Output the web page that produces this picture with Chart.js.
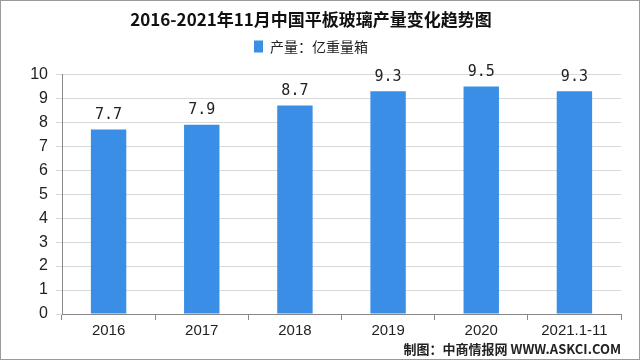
<!DOCTYPE html>
<html>
<head>
<meta charset="utf-8">
<script src="https://cdn.jsdelivr.net/npm/chart.js@4.4.0/dist/chart.umd.min.js"></script>
<style>
  html, body { margin: 0; padding: 0; background: #fff; }
  #wrap { position: relative; width: 638px; height: 358px; border: 1px solid #9a9a9a; }
  #credit { position: absolute; right: 18px; bottom: 1px; font: bold 13px "Noto Sans CJK SC", sans-serif; color: #222; }
</style>
</head>
<body>
<div id="wrap">
  <canvas id="chart" width="638" height="358"></canvas>
  <div id="credit">制图：中商情报网 WWW.ASKCI.COM</div>
</div>
<script>
var years = ["2016", "2017", "2018", "2019", "2020", "2021.1-11"];
var output = [7.7, 7.9, 8.7, 9.3, 9.5, 9.3];
var yTicks = [0, 1, 2, 3, 4, 5, 6, 7, 8, 9, 10];

// labels over each bar
var barLabels = {
    id: "barLabels",
    afterDatasetsDraw: function(chart) {
        var ctx = chart.ctx;
        var meta = chart.getDatasetMeta(0);
        ctx.save();
        ctx.font = "15px 'DejaVu Sans Mono', monospace";
        ctx.fillStyle = "#222";
        ctx.textAlign = "center";
        ctx.textBaseline = "bottom";
        meta.data.forEach(function(bar, i) {
            ctx.fillText(output[i].toFixed(1), bar.x, bar.y - 7);
        });
        ctx.restore();
    }
};

// extra gap below the legend
var legendGap = {
    id: "legendGap",
    beforeInit: function(chart) {
        var fit = chart.legend.fit;
        chart.legend.fit = function() {
            fit.bind(chart.legend)();
            this.height += 11;
        };
    }
};

new Chart(document.getElementById("chart"), {
    type: "bar",
    data: {
        labels: years,
        datasets: [{
            label: "产量：亿重量箱",
            data: output,
            backgroundColor: "#3a8ee6",
            categoryPercentage: 1,
            barPercentage: 0.38
        }]
    },
    options: {
        responsive: false,
        animation: false,
        layout: { padding: { left: 0, right: 18, top: 0, bottom: 17 } },
        plugins: {
            title: {
                display: true,
                text: "2016-2021年11月中国平板玻璃产量变化趋势图",
                font: { size: 17, weight: "bold", family: "'Noto Sans CJK SC', sans-serif" },
                color: "#111",
                padding: { top: 8, bottom: 2 }
            },
            legend: {
                display: true,
                position: "top",
                labels: {
                    boxWidth: 9,
                    boxHeight: 12,
                    color: "#222",
                    font: { size: 14, family: "'Noto Sans CJK SC', sans-serif" },
                    padding: 8
                }
            },
            tooltip: { enabled: false }
        },
        scales: {
            x: {
                grid: { display: true, drawOnChartArea: false, drawTicks: true, tickLength: 6, color: "#888", offset: true },
                border: { color: "#888" },
                ticks: { color: "#222", font: { size: 15, family: "'Liberation Sans', sans-serif" }, padding: 2 }
            },
            y: {
                min: 0,
                max: 10,
                afterBuildTicks: function(axis) {
                    axis.ticks = yTicks.map(function(v) { return { value: v }; });
                },
                afterFit: function(axis) { axis.width = 61; },
                grid: { color: "#d9d9d9", tickLength: 6 },
                border: { color: "#888" },
                ticks: { color: "#222", font: { size: 16, family: "'Liberation Sans', sans-serif" }, padding: 8 }
            }
        }
    },
    plugins: [barLabels, legendGap]
});
</script>
</body>
</html>
